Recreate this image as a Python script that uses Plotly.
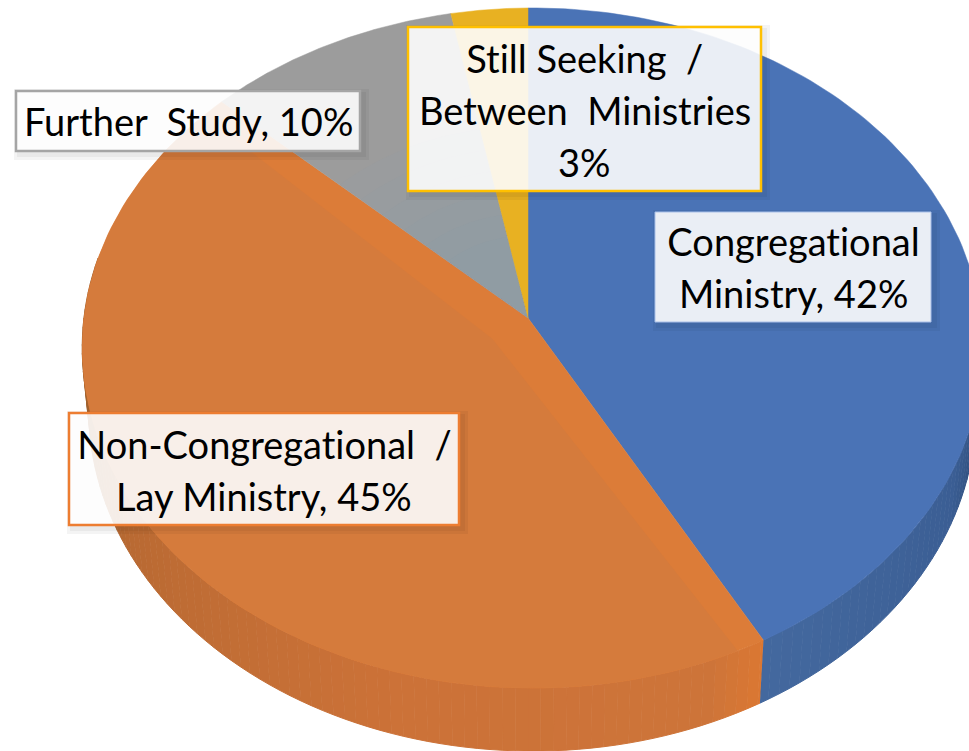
import numpy as np
import plotly.graph_objects as go

# ---- data ----
categories = ["Congregational Ministry", "Non-Congregational / Lay Ministry", "Further Study", "Still Seeking / Between Ministries"]
values = [42, 45, 10, 3]
label_lines = [
    ["Congregational", "Ministry, 42%"],
    ["Non-Congregational  /", "Lay Ministry, 45%"],
    ["Further  Study, 10%"],
    ["Still Seeking  /", "Between  Ministries", "3%"],
]

# ---- style ----
top_colors = ["#4A73B6", "#DC7C38", "#9C9C9C", "#E8B122"]
W, H = 969, 751
CX, CY, A, B = 528.0, 318.0, 448.5, 337.4   # pixel position / scale of the disc
K, M = 0.0883, -0.01                         # perspective
DEPTH = 63.0 / B
BOTTOM_SCALE = 0.985
BOX = [(655, 212, 931, 322), (69, 413, 459, 525), (16, 91, 360, 151), (408, 27, 761, 191)]
BORDER = ["#A9C0E8", "#ED7D31", "#A5A5A5", "#FFC000"]
BORDER_W = [1, 2.5, 2.5, 2.5]
LINE_Y = [[241, 293], [444, 496], [121], [58, 110, 162]]
FONT_PX = 38


def project(theta, r=1.0):
    u, v = r * np.sin(theta), r * np.cos(theta)
    w = 1 / (1 + K * v + M * u)
    return u * w, v * w


def hexrgb(c):
    return np.array([int(c[i:i + 2], 16) for i in (1, 3, 5)], float)


def ramp(stops, t):
    xs = [s[0] for s in stops]
    rgb = [np.interp(t, xs, [hexrgb(s[1])[i] for s in stops]) for i in range(3)]
    return "rgb(%d,%d,%d)" % tuple(rgb)


fracs = np.array(values, float) / sum(values)
edges = np.concatenate([[0], np.cumsum(fracs)]) * 2 * np.pi

fig = go.Figure()

# side wall, drawn as thin strips so that the shading varies round the rim
blue_end = edges[1]
start, stop = np.radians(84), np.radians(282)
blue_stops = [(0.0, "#1A2E4E"), (0.2, "#2A4672"), (0.45, "#3B5E94"), (1.0, "#44699F")]
orange_stops = [(0.0, "#DC7832"), (0.05, "#CE753A"), (0.35, "#CC7238"), (0.68, "#B96A33"), (0.85, "#A1622E"), (1.0, "#955D2E")]

strips = np.unique(np.concatenate([np.arange(start, stop, np.radians(1.5)), [blue_end]]))
for a0, a1 in zip(strips[:-1], strips[1:]):
    mid = (a0 + a1) / 2
    if mid < blue_end:
        col = ramp(blue_stops, (mid - start) / (blue_end - start))
    else:
        col = ramp(orange_stops, (mid - blue_end) / (stop - blue_end))
    t = np.array([a0, a1])
    x, y = project(t)
    xs = np.concatenate([x, x[::-1] * BOTTOM_SCALE])
    ys = np.concatenate([y, y[::-1] - DEPTH])
    fig.add_trace(go.Scatter(x=xs, y=ys, mode="lines", fill="toself", fillcolor=col,
                             line=dict(color=col, width=1), hoverinfo="skip", showlegend=False))

# top face
for i, cat in enumerate(categories):
    t = np.linspace(edges[i], edges[i + 1], 120)
    x, y = project(t)
    fig.add_trace(go.Scatter(x=np.concatenate([[0], x, [0]]), y=np.concatenate([[0], y, [0]]),
                             mode="lines", fill="toself", fillcolor=top_colors[i],
                             line=dict(color=top_colors[i], width=0.5), name=cat,
                             hoverinfo="name", showlegend=False))

# duller interior of the orange slice, leaving a brighter band along its straight edges
mid = (edges[1] + edges[2]) / 2
off_x, off_y = project(np.array([mid]), 0.10)
xi, yi = project(np.linspace(edges[1] + 0.06, edges[2] - 0.06, 120))
fig.add_trace(go.Scatter(x=np.concatenate([off_x, xi, off_x]), y=np.concatenate([off_y, yi, off_y]),
                         mode="lines", fill="toself", fillcolor="#D57B3C",
                         line=dict(color="#D57B3C", width=0), hoverinfo="skip", showlegend=False))

# bluish tint of the grey slice near the centre
for r in (0.25, 0.32, 0.39, 0.46, 0.53, 0.6):
    gx, gy = project(np.linspace(edges[2], edges[3], 40), r)
    fig.add_trace(go.Scatter(x=np.concatenate([[0], gx, [0]]), y=np.concatenate([[0], gy, [0]]),
                             mode="lines", fill="toself", fillcolor="rgba(125,155,180,0.07)",
                             line=dict(width=0), hoverinfo="skip", showlegend=False))

shapes, annotations = [], []
px = lambda v: v / W
py = lambda v: 1 - v / H
for i, lines in enumerate(label_lines):
    x0, y0, x1, y1 = BOX[i]
    for grow in (6, 3):
        shapes.append(dict(type="rect", xref="paper", yref="paper",
                           x0=px(x0 + 4 - grow), x1=px(x1 + 3 + grow), y0=py(y0 + 4 - grow), y1=py(y1 + 3 + grow),
                           fillcolor="rgba(0,0,0,0.045)", line_width=0, layer="above"))
    shapes.append(dict(type="rect", xref="paper", yref="paper",
                       x0=px(x0), x1=px(x1), y0=py(y0), y1=py(y1),
                       fillcolor="rgba(255,255,255,0.89)",
                       line=dict(color=BORDER[i], width=BORDER_W[i]), layer="above"))
    for line, ly in zip(lines, LINE_Y[i]):
        annotations.append(dict(xref="paper", yref="paper", x=px((x0 + x1) / 2), y=py(ly),
                                text=line, showarrow=False, xanchor="center", yanchor="middle",
                                font=dict(family="Lato", size=FONT_PX, color="#000000")))

fig.update_layout(
    width=W, height=H, margin=dict(l=0, r=0, t=0, b=0),
    paper_bgcolor="white", plot_bgcolor="white", showlegend=False,
    xaxis=dict(range=[-CX / A, (W - CX) / A], visible=False, fixedrange=True),
    yaxis=dict(range=[(CY - H) / B, CY / B], visible=False, fixedrange=True),
    shapes=shapes, annotations=annotations,
)
fig.write_html(
    "out.html",
    config={"displayModeBar": False},
    post_script=("document.body.style.margin='0';document.body.style.overflow='hidden';"
                 "var s=document.createElement('style');"
                 "s.textContent='text{font-variant-ligatures:none !important}';"
                 "document.head.appendChild(s);"),
)
